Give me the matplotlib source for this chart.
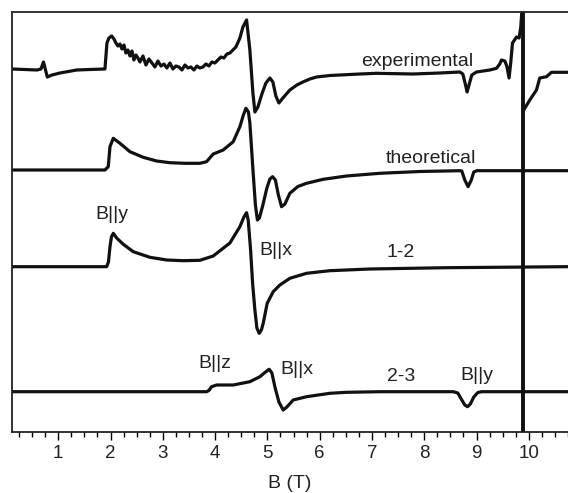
"""EPR spectra: experimental vs theoretical, with 1-2 and 2-3 transitions."""

import matplotlib

matplotlib.use("Agg")
import matplotlib.pyplot as plt
from matplotlib.ticker import MultipleLocator

plt.rcParams["font.family"] = ["Liberation Sans", "DejaVu Sans"]

# Field values (T) and intensities (arbitrary units, already offset)
exp_left_b = [0.115, 0.593, 0.669, 0.717, 0.790, 0.880, 1.033, 1.352, 1.606, 1.893,
              1.931, 1.969, 2.021, 2.065, 2.103, 2.141, 2.180, 2.218, 2.256, 2.294,
              2.333, 2.371, 2.409, 2.447, 2.486, 2.524, 2.562, 2.620, 2.677, 2.734,
              2.792, 2.849, 2.906, 2.964, 3.021, 3.078, 3.136, 3.193, 3.250, 3.308,
              3.365, 3.423, 3.480, 3.537, 3.595, 3.652, 3.709, 3.767, 3.824, 3.881,
              3.939, 3.996, 4.053, 4.111, 4.168, 4.226, 4.283, 4.340, 4.398, 4.474,
              4.532, 4.602, 4.665, 4.723, 4.761, 4.818, 4.895, 4.971, 5.048, 5.105,
              5.162, 5.220, 5.296, 5.430, 5.564, 5.679, 5.813, 5.941, 6.195, 6.386,
              6.769, 7.088, 7.782, 8.298, 8.680, 8.738, 8.786, 8.820, 8.862, 8.910,
              9.000, 9.254, 9.382, 9.445, 9.478, 9.541, 9.579, 9.623, 9.656, 9.688,
              9.765, 9.814, 9.847, 9.866]
exp_left_v = [363, 362, 363, 370, 355, 357, 359, 362, 362.5, 363,
              389, 394, 396, 393, 389, 386, 388, 383, 387, 379,
              382, 376, 381, 372, 377, 374, 370, 376, 367, 373,
              369, 365, 371, 366, 368, 364, 369, 363, 366, 365,
              362, 367, 364, 365, 362, 366, 364, 365, 368, 366,
              370, 369, 372, 375, 374, 378, 379, 382, 385, 394,
              405, 412, 382, 339, 320, 325, 338, 349, 354, 350,
              336, 329, 334, 342, 347, 350, 353, 355, 356.5, 357,
              358, 358.7, 358, 359, 360, 358, 348, 340, 348, 357,
              360, 362, 363.7, 368, 372, 371, 366, 354, 370, 389,
              395, 394, 405, 420]
exp_right_b = [9.904, 10.019, 10.147, 10.210, 10.338, 10.434, 10.721]
exp_right_v = [322, 332, 342, 354, 355.3, 359.7, 359.7]

theo_b = [0.115, 1.893, 1.956, 1.989, 2.052, 2.180, 2.371, 2.625, 2.881, 3.136,
          3.423, 3.709, 3.837, 3.881, 3.964, 4.155, 4.346, 4.474, 4.541, 4.589,
          4.637, 4.665, 4.728, 4.771, 4.809, 4.847, 4.914, 4.990, 5.048, 5.099,
          5.153, 5.210, 5.271, 5.335, 5.430, 5.583, 5.749, 6.067, 6.514, 7.151,
          7.916, 8.680, 8.718, 8.776, 8.839, 8.900, 8.948, 9.006, 10.721]
theo_v = [262, 262, 265.3, 285.3, 293.7, 288.7, 280.3, 274.7, 271, 269.3,
          268.7, 268.7, 270.3, 273, 278, 282, 290.3, 305.3, 317, 323.7,
          320, 309, 259, 227, 212, 214, 227, 244, 253, 255.3,
          252, 237, 225.3, 228, 238.7, 245.5, 248.7, 252.7, 256, 258.7,
          260.5, 261.3, 261, 252, 245.3, 252, 260, 261.3, 261.3]

t12_b = [0.115, 1.925, 1.960, 1.989, 2.017, 2.052, 2.117, 2.237, 2.434, 2.753,
         3.073, 3.390, 3.709, 3.964, 4.283, 4.474, 4.551, 4.602, 4.633, 4.679,
         4.717, 4.761, 4.799, 4.843, 4.885, 4.920, 4.996, 5.111, 5.239, 5.430,
         5.749, 6.195, 6.960, 8.426, 10.721]
t12_v = [165.3, 165.3, 170, 185.3, 195, 198.7, 194, 188, 180.3, 174.7,
         172, 171.3, 171.7, 176, 189, 205.3, 215, 219.3, 212, 182,
         148.7, 122, 104, 98.7, 102, 108.7, 128.7, 140.3, 147, 153.7,
         158.7, 161.3, 163, 164.3, 165.3]

t23_b = [0.115, 3.837, 3.881, 3.933, 4.029, 4.347, 4.665, 4.857, 4.952, 5.035,
         5.086, 5.143, 5.220, 5.302, 5.373, 5.493, 5.749, 6.195, 6.514, 7.151,
         8.553, 8.642, 8.719, 8.776, 8.828, 8.882, 8.948, 9.025, 9.096, 10.721]
t23_v = [40.3, 40.3, 41.5, 45.3, 47, 47, 50.3, 55.3, 59.5, 62.7,
         59, 45.3, 30, 22, 25, 32, 35.3, 38.7, 39.7, 40.3,
         40.3, 39, 32, 27, 25.3, 28, 35, 39.5, 40.3, 40.3]

marker_field = 9.88

# (text, B, baseline)
labels = [
    ("experimental", 7.87, 366),
    ("theoretical", 8.13, 268.7),
    ("B||y", 2.02, 213),
    ("B||x", 5.16, 177),
    ("1-2", 7.55, 174.7),
    ("B||z", 4.00, 64.3),
    ("B||x", 5.57, 57.7),
    ("2-3", 7.55, 51),
    ("B||y", 9.00, 52),
]

fig = plt.figure(figsize=(5.68, 4.93), dpi=100)
ax = fig.add_axes([12 / 568, 61 / 493, 556 / 568, 420 / 493])

line_kw = dict(color="#111111", linewidth=2.3, solid_joinstyle="round")
ax.plot(exp_left_b, exp_left_v, **line_kw)
ax.plot(exp_right_b, exp_right_v, **line_kw)
ax.plot(theo_b, theo_v, **line_kw)
ax.plot(t12_b, t12_v, **line_kw)
ax.plot(t23_b, t23_v, **line_kw)
ax.axvline(marker_field, color="#111111", linewidth=2.8)

for text, b, v in labels:
    ax.text(b, v, text, ha="center", va="baseline", fontsize=14, color="#222222")

ax.set_xlim(0.115, 10.75)
ax.set_ylim(0, 420)
ax.xaxis.set_major_locator(MultipleLocator(1))
ax.xaxis.set_minor_locator(MultipleLocator(0.25))
ax.tick_params(axis="x", which="major", direction="out", length=6, width=1,
               pad=3.5, labelsize=13.5, labelcolor="#222222")
ax.tick_params(axis="x", which="minor", direction="out", length=3.5, width=1)
ax.set_yticks([])
ax.spines["right"].set_visible(False)
for side in ("left", "top", "bottom"):
    ax.spines[side].set_linewidth(1.3)
    ax.spines[side].set_color("#222222")
ax.set_xlabel("B (T)", fontsize=14, color="#222222", labelpad=9)

fig.savefig("out.png", dpi=100)
plt.close(fig)
